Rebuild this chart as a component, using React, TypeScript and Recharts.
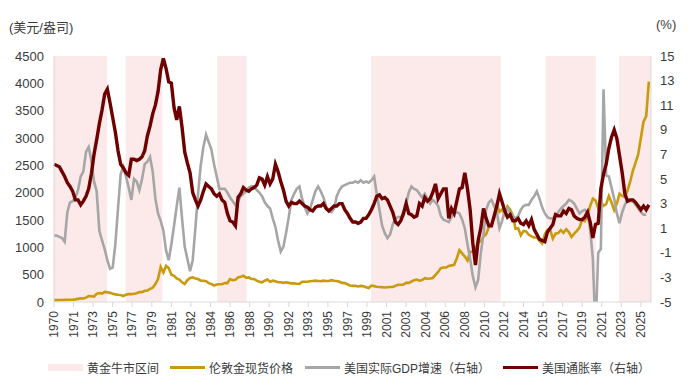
import React from 'react';
import { ComposedChart, Line, XAxis, YAxis, ReferenceArea } from 'recharts';

const FONT = '"Liberation Sans", Arial, "Noto Sans CJK SC", sans-serif';

// quarterly values from 1970Q1, one row = 4 years
const goldPrice = [
  35, 35, 36, 37, 38, 40, 42, 43, 48, 57, 66, 63, 80, 110, 105, 100,
  150, 165, 155, 185, 178, 167, 150, 140, 132, 127, 110, 134, 147, 145, 150, 160,
  180, 180, 205, 210, 240, 260, 330, 420, 640, 540, 660, 620, 500, 480, 430, 410,
  360, 330, 400, 440, 450, 430, 420, 390, 390, 380, 345, 330, 300, 320, 325, 325,
  345, 345, 420, 400, 405, 450, 460, 480, 445, 450, 420, 420, 390, 370, 360, 390,
  410, 370, 390, 380, 360, 360, 350, 360, 350, 340, 340, 335, 330, 370, 370, 370,
  380, 385, 390, 385, 380, 390, 385, 385, 400, 390, 385, 370, 350, 345, 325, 300,
  295, 295, 285, 295, 287, 270, 255, 300, 290, 280, 275, 270, 265, 270, 275, 275,
  295, 315, 315, 320, 350, 350, 375, 400, 410, 390, 400, 435, 425, 430, 440, 495,
  550, 620, 630, 630, 660, 670, 680, 800, 950, 890, 830, 760, 920, 920, 960, 1100,
  1110, 1200, 1240, 1370, 1420, 1530, 1780, 1650, 1690, 1600, 1750, 1690, 1590, 1340, 1350, 1220,
  1300, 1290, 1230, 1200, 1180, 1180, 1120, 1070, 1240, 1320, 1320, 1160, 1250, 1260, 1315, 1265,
  1330, 1280, 1190, 1250, 1300, 1360, 1510, 1480, 1590, 1760, 1890, 1860, 1720, 1830, 1760, 1790,
  1940, 1820, 1680, 1800, 1980, 1940, 1920, 2040, 2200, 2400, 2550, 2700, 3000, 3300, 3400, 4030,
];

const gdpGrowth = [
  0.4, 0.4, 0.3, 0.2, -0.1, 2.3, 3.1, 3.2, 3.5, 4.1, 5.2, 5.6, 7.2, 7.6, 6.5, 4.8,
  4.0, 0.8, 0.0, -0.7, -1.6, -2.3, -2.2, -0.3, 2.6, 5.4, 6.0, 5.2, 4.3, 3.3, 5.0, 4.8,
  4.1, 5.0, 6.2, 6.4, 6.8, 5.6, 3.4, 2.2, 1.6, 0.8, -0.8, -1.6, -0.3, 1.2, 2.8, 4.3,
  1.8, -0.5, -1.5, -2.5, -1.6, 1.0, 3.8, 6.1, 7.6, 8.6, 8.0, 7.4, 6.2, 5.2, 4.2, 4.2,
  4.2, 3.9, 3.5, 3.2, 2.9, 3.2, 3.6, 3.8, 4.0, 4.3, 4.4, 4.4, 4.1, 3.9, 3.6, 3.1,
  2.8, 2.6, 1.8, 1.1, 0.0, -0.9, -0.5, 0.6, 1.9, 3.3, 3.8, 4.2, 4.4, 3.4, 2.7, 2.2,
  2.6, 3.3, 4.0, 4.4, 4.0, 3.5, 2.8, 2.4, 2.3, 2.6, 3.6, 4.1, 4.4, 4.5, 4.6, 4.7,
  4.7, 4.8, 4.7, 4.9, 4.7, 4.8, 4.7, 4.9, 5.2, 3.8, 2.5, 1.2, 0.6, 0.2, 0.5, 1.3,
  1.8, 1.9, 1.9, 2.0, 3.0, 3.9, 4.4, 4.2, 4.1, 3.8, 3.5, 3.8, 3.4, 3.0, 3.3, 3.1,
  2.8, 2.0, 1.7, 1.6, 1.5, 1.9, 2.2, 2.3, 2.2, 1.7, 1.0, -0.3, -1.5, -2.9, -3.8, -3.2,
  -1.0, 0.5, 2.5, 3.1, 3.3, 2.8, 2.3, 1.0, 1.6, 2.5, 2.6, 2.2, 2.0, 1.8, 2.0, 2.5,
  2.8, 2.9, 2.9, 3.3, 3.6, 4.0, 3.4, 2.7, 2.2, 1.9, 1.8, 1.8, 2.0, 2.3, 2.6, 2.8,
  3.0, 3.3, 3.2, 3.0, 2.6, 2.2, 2.4, 2.5, 2.3, 0.9, -1.5, -7.5, -1.0, -0.7, 12.3, 5.3,
  5.2, 4.3, 3.4, 2.2, 1.4, 2.3, 2.9, 3.3, 3.2, 3.2, 2.9, 2.6, 2.3, 2.1, 2.1,
];

const cpiInflation = [
  6.2, 6.1, 6.0, 5.6, 5.2, 4.7, 4.4, 4.0, 3.3, 3.3, 2.9, 3.2, 3.6, 4.2, 5.4, 7.0,
  8.2, 9.5, 10.6, 11.9, 12.3, 11.2, 10.0, 8.8, 7.3, 6.2, 5.9, 5.5, 5.3, 6.6, 6.6, 6.5,
  6.6, 6.8, 7.3, 8.5, 9.3, 10.3, 11.0, 12.1, 13.9, 14.8, 14.0, 12.9, 12.8, 10.8, 9.8, 10.9,
  9.2, 7.2, 6.3, 5.5, 3.9, 3.3, 2.8, 3.3, 4.0, 4.6, 4.4, 4.2, 3.8, 3.6, 3.8, 3.3,
  3.1, 2.2, 1.6, 1.5, 1.2, 3.5, 3.8, 4.3, 4.1, 4.0, 4.2, 4.3, 4.5, 5.1, 5.0, 4.5,
  5.2, 4.6, 5.0, 6.2, 5.6, 4.8, 4.1, 3.2, 2.8, 3.1, 3.0, 3.0, 3.2, 3.0, 2.8, 2.7,
  2.5, 2.4, 2.7, 2.8, 2.8, 3.0, 2.6, 2.4, 2.6, 2.8, 2.8, 3.0, 3.0, 2.5, 2.2, 1.8,
  1.5, 1.5, 1.4, 1.5, 1.8, 1.8, 2.1, 2.5, 3.0, 3.6, 3.7, 3.4, 3.5, 3.3, 2.8, 2.3,
  1.5, 1.3, 1.6, 2.2, 3.0, 2.2, 2.1, 1.9, 2.0, 3.0, 2.8, 3.5, 3.2, 3.4, 3.9, 4.6,
  3.4, 3.8, 4.2, 4.2, 1.8, 2.6, 2.2, 3.2, 4.2, 4.3, 5.5, 4.2, 2.5, -0.2, -2.0, 0.0,
  1.0, 2.6, 1.8, 1.2, 1.2, 2.0, 2.8, 3.8, 3.1, 2.4, 1.9, 2.1, 1.6, 1.6, 1.8, 1.4,
  1.3, 1.6, 1.2, 1.7, 0.9, 0.5, 0.1, 0.0, -0.1, 0.7, 1.0, 1.3, 2.1, 2.0, 2.0, 2.4,
  2.2, 2.6, 2.5, 2.0, 1.8, 1.7, 1.7, 1.9, 2.3, 1.5, 0.2, 1.3, 1.4, 4.2, 5.4, 6.2,
  7.5, 8.4, 9.0, 8.3, 6.9, 5.5, 3.8, 3.2, 3.3, 3.3, 3.1, 2.8, 2.5, 2.8, 2.5, 2.9,
];

// gold bull market ranges, decimal years
const bullMarkets: [number, number][] = [
  [1970, 1974.98], [1976.72, 1980.15], [1985.3, 1988.05],
  [1999.7, 2011.86], [2016.08, 2020.77], [2022.95, 2025.95],
];

// category labels every 22 months starting Jan 1970
const xTickLabels = [
  '1970', '1971', '1973', '1975', '1977', '1979', '1981', '1982', '1984', '1986', '1988',
  '1990', '1992', '1993', '1995', '1997', '1999', '2001', '2003', '2004', '2006', '2008',
  '2010', '2012', '2014', '2015', '2017', '2019', '2021', '2023', '2025',
];

const leftTicks = [0, 500, 1000, 1500, 2000, 2500, 3000, 3500, 4000, 4500];
const rightTicks = [-5, -3, -1, 1, 3, 5, 7, 9, 11, 13, 15];

const data = goldPrice.map((g, i) => ({
  x: 1970 + i / 4,
  gold: g,
  gdp: i < gdpGrowth.length ? gdpGrowth[i] : null,
  cpi: cpiInflation[i],
}));

const xTicks = xTickLabels.map((_, k) => 1970 + (k * 22) / 12);

const COLORS = { bull: '#FCE9E9', gold: '#C99A0C', gdp: '#A6A6A6', cpi: '#6E0000' };
const TEXT = '#3a3a3a';

const XTick = (props: any) => {
  const { x, y, payload } = props;
  const k = Math.round(((payload.value - 1970) * 12) / 22);
  return (
    <text
      x={x}
      y={y}
      dy="0.35em"
      textAnchor="end"
      transform={`rotate(-90 ${x} ${y})`}
      fontSize={12}
      fontFamily={FONT}
      fill={TEXT}
    >
      {xTickLabels[k]}
    </text>
  );
};

const legendItems = [
  { label: '黄金牛市区间', color: COLORS.bull, area: true, x: 48 },
  { label: '伦敦金现货价格', color: COLORS.gold, area: false, x: 170 },
  { label: '美国实际GDP增速（右轴）', color: COLORS.gdp, area: false, x: 305 },
  { label: '美国通胀率（右轴）', color: COLORS.cpi, area: false, x: 503 },
];

export default function App() {
  const tickStyle = { fontSize: 13, fontFamily: FONT, fill: TEXT };
  return (
    <div style={{ position: 'absolute', left: 0, top: 0, width: 690, height: 391, background: '#fff', fontFamily: FONT }}>
      <div style={{ position: 'absolute', left: 9, top: 17, fontSize: 13, color: TEXT }}>(美元/盎司)</div>
      <div style={{ position: 'absolute', left: 656, top: 17, fontSize: 13, color: TEXT }}>(%)</div>
      <ComposedChart width={690} height={391} data={data} margin={{ top: 56, right: 0, bottom: 49, left: 0 }}>
        {bullMarkets.map(([a, b]) => (
          <ReferenceArea key={a} x1={a} x2={b} yAxisId="left" y1={0} y2={4500} fill={COLORS.bull} fillOpacity={1} stroke="none" />
        ))}
        <XAxis
          dataKey="x"
          type="number"
          domain={[1970, 2025.95]}
          ticks={xTicks}
          interval={0}
          height={40}
          tick={<XTick />}
          tickSize={5}
          tickMargin={4}
          stroke="#D9D9D9"
        />
        <YAxis
          yAxisId="left"
          domain={[0, 4500]}
          ticks={leftTicks}
          width={54}
          tick={tickStyle}
          tickLine={false}
          tickMargin={4}
          stroke="#D9D9D9"
        />
        <YAxis
          yAxisId="right"
          orientation="right"
          domain={[-5, 15]}
          ticks={rightTicks}
          allowDataOverflow
          width={39}
          tick={tickStyle}
          tickLine={false}
          tickMargin={3}
          stroke="#D9D9D9"
        />
        <Line yAxisId="left" dataKey="gold" stroke={COLORS.gold} strokeWidth={2.6} dot={false} isAnimationActive={false} />
        <Line yAxisId="right" dataKey="gdp" stroke={COLORS.gdp} strokeWidth={2.6} dot={false} isAnimationActive={false} />
        <Line yAxisId="right" dataKey="cpi" stroke={COLORS.cpi} strokeWidth={3.4} dot={false} isAnimationActive={false} />
      </ComposedChart>
      {legendItems.map((it) => (
        <div key={it.label} style={{ position: 'absolute', left: it.x, top: 359, height: 16, display: 'flex', alignItems: 'center', fontSize: 12, color: TEXT, whiteSpace: 'nowrap' }}>
          <span style={{ display: 'inline-block', width: 35, height: it.area ? 7 : 3, background: it.color, marginRight: 4 }} />
          {it.label}
        </div>
      ))}
    </div>
  );
}
